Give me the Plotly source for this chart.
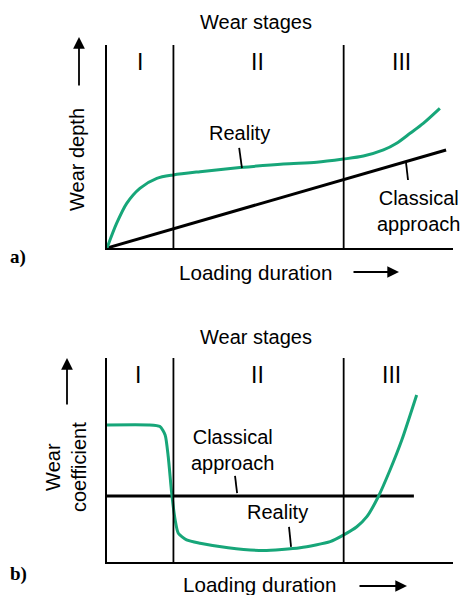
import plotly.graph_objects as go

W, H = 462, 595

# ---------------- data (normalized units 0..100) ----------------
stage_bounds = [19.2, 68.4]
stage_labels = ["I", "II", "III"]

# panel a: wear depth vs loading duration
a_real_x = [0, 2.8, 5.7, 9.5, 14.4, 19.2, 26.9, 38.4, 51.0, 60.6, 68.3, 74.1, 79.9, 83.7, 87.6, 91.4, 96.2]
a_real_y = [0, 12.2, 22.0, 29.4, 34.3, 36.0, 37.6, 39.6, 41.4, 42.2, 43.8, 45.3, 48.3, 51.6, 56.5, 61.4, 68.8]
a_class_x = [0, 98.0]
a_class_y = [0, 48.3]

# panel b: wear coefficient vs loading duration
b_real_x = [0, 12.0, 15.3, 16.8, 17.7, 18.7, 19.7, 20.6, 23.0, 26.9, 35.0, 45.2, 55.8, 64.5, 68.3,
            72.2, 75.1, 78.4, 81.8, 85.2, 89.5]
b_real_y = [67.2, 67.2, 66.4, 62.3, 51.6, 33.7, 20.6, 14.1, 10.8, 9.2, 7.0, 5.6, 7.0, 10.0, 13.2,
            17.3, 22.2, 32.0, 45.1, 59.8, 81.9]
b_class_x = [0, 88.7]
b_class_y = [32.4, 32.4]

GREEN = "#17a679"
FONT = "Liberation Sans, Arial, sans-serif"

def px2paper(x, y):
    return x / W, (H - y) / H

fig = go.Figure()

fig.add_trace(go.Scatter(x=a_class_x, y=a_class_y, mode="lines",
                         line=dict(color="black", width=3), xaxis="x", yaxis="y"))
fig.add_trace(go.Scatter(x=a_real_x, y=a_real_y, mode="lines",
                         line=dict(color=GREEN, width=3, shape="spline", smoothing=0.8),
                         xaxis="x", yaxis="y"))
fig.add_trace(go.Scatter(x=b_class_x, y=b_class_y, mode="lines",
                         line=dict(color="black", width=3), xaxis="x2", yaxis="y2"))
fig.add_trace(go.Scatter(x=b_real_x, y=b_real_y, mode="lines",
                         line=dict(color=GREEN, width=3, shape="spline", smoothing=0.6),
                         xaxis="x2", yaxis="y2"))

ax_common = dict(range=[0, 100], showgrid=False, zeroline=False, showticklabels=False,
                 ticks="", showline=True, linecolor="black", linewidth=2, fixedrange=True)

x0d, x1d = 107 / W, 453 / W
fig.update_layout(
    width=W, height=H, margin=dict(l=0, r=0, t=0, b=0),
    paper_bgcolor="white", plot_bgcolor="white", showlegend=False,
    font=dict(family=FONT, size=20, color="black"),
    xaxis=dict(domain=[x0d, x1d], anchor="y", **ax_common),
    yaxis=dict(domain=[(H - 248) / H, (H - 45) / H], anchor="x", **ax_common),
    xaxis2=dict(domain=[x0d, x1d], anchor="y2", **ax_common),
    yaxis2=dict(domain=[(H - 562) / H, (H - 358) / H], anchor="x2", **ax_common),
)

shapes = []
annotations = []

def ptext(text, x, y, **kw):
    px, py = px2paper(x, y)
    d = dict(text=text, xref="paper", yref="paper", x=px, y=py, showarrow=False,
             xanchor="center", yanchor="middle")
    d.update(kw)
    annotations.append(d)

# stage boundaries and labels
stage_label_x = {"a": [9.5, 43.4, 85.0], "b": [9.0, 43.6, 82.1]}
for xr, yr, key in [("x", "y", "a"), ("x2", "y2", "b")]:
    for sb in stage_bounds:
        shapes.append(dict(type="line", xref=xr, yref=yr, x0=sb, x1=sb, y0=0, y1=100,
                           line=dict(color="black", width=1.8)))
    for lab, lx in zip(stage_labels, stage_label_x[key]):
        annotations.append(dict(text=lab, xref=xr, yref=yr, x=lx, y=91.5, showarrow=False,
                                font=dict(size=23), xanchor="center", yanchor="middle"))

ptext("Wear stages", 256, 22)
ptext("Wear stages", 256, 337)

# curve labels
annotations += [
    dict(text="Reality", xref="x", yref="y", x=38.2, y=56.7, showarrow=False),
    dict(text="Classical<br>approach", xref="x", yref="y", x=89.9, y=18.0, showarrow=False),
    dict(text="Reality", xref="x2", yref="y2", x=49.4, y=24.5, showarrow=False),
    dict(text="Classical<br>approach", xref="x2", yref="y2", x=36.4, y=54.9, showarrow=False),
]
leaders = [("x", "y", 38.2, 49.3, 39.0, 39.4), ("x", "y", 86.4, 42.4, 87.0, 33.5),
           ("x2", "y2", 37.0, 42.2, 37.6, 33.8), ("x2", "y2", 52.6, 17.2, 53.2, 7.4)]
for xr, yr, xa, ya, xb, yb in leaders:
    shapes.append(dict(type="line", xref=xr, yref=yr, x0=xa, y0=ya, x1=xb, y1=yb,
                       line=dict(color="black", width=1.8)))

ptext("Wear depth", 77, 160, textangle=-90)
ptext("Wear<br>coefficient", 66, 467, textangle=-90)
ptext("Loading duration", 255, 272, font=dict(size=20.6))
ptext("Loading duration", 259, 584, font=dict(size=20.6))
ptext("<b>a)</b>", 18, 257, font=dict(family="Liberation Serif, Times New Roman, serif", size=19))
ptext("<b>b)</b>", 18, 574, font=dict(family="Liberation Serif, Times New Roman, serif", size=19))

# arrows
def parrow(xh, yh, xt, yt):
    hx, hy = px2paper(xh, yh)
    annotations.append(dict(text="", xref="paper", yref="paper", x=hx, y=hy,
                            axref="pixel", ayref="pixel", ax=xt - xh, ay=yt - yh,
                            showarrow=True, arrowhead=2, arrowsize=1.3, arrowwidth=1.8,
                            arrowcolor="black"))

parrow(79, 37, 79, 87)
parrow(399, 272, 352, 272)
parrow(67, 358, 67, 406)
parrow(407, 586, 358, 586)

fig.update_layout(shapes=shapes, annotations=annotations)
fig.write_html("out.html", config={"displayModeBar": False},
               post_script="document.body.style.margin='0';document.body.style.overflow='hidden';")
